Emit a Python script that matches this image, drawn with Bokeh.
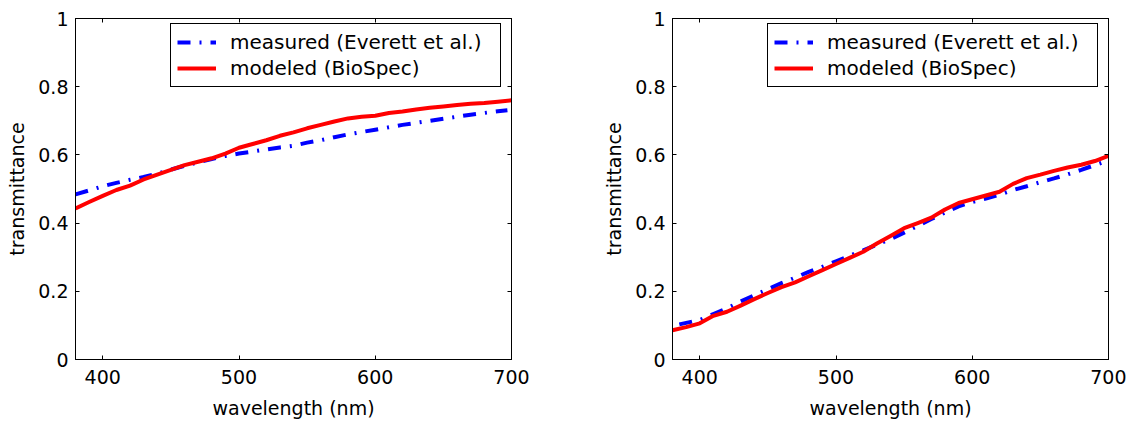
from bokeh.plotting import figure
from bokeh.models import Range1d, FixedTicker, LinearAxis, Legend, LegendItem
from bokeh.layouts import row
from bokeh.embed import file_html
from bokeh.resources import INLINE

# ---- data ----
x_ticks = [400, 500, 600, 700]
y_ticks = [0, 0.2, 0.4, 0.6, 0.8, 1]
y_tick_labels = ["0", "0.2", "0.4", "0.6", "0.8", "1"]

legend_labels = ["measured (Everett et al.)", "modeled (BioSpec)"]

# left panel
left_meas_wl = [380, 390, 400, 410, 420, 430, 440, 450, 460, 470, 480, 490, 500,
                510, 520, 530, 540, 550, 560, 570, 580, 590, 600, 610, 620, 630,
                640, 650, 660, 670, 680, 690, 697]
left_meas_t = [0.484, 0.496, 0.508, 0.518, 0.527, 0.535, 0.545, 0.557, 0.568, 0.578,
               0.588, 0.597, 0.604, 0.610, 0.616, 0.622, 0.627, 0.636, 0.643, 0.652,
               0.660, 0.667, 0.674, 0.681, 0.688, 0.694, 0.700, 0.706, 0.712, 0.718,
               0.723, 0.728, 0.731]
left_mod_wl = [380, 390, 400, 410, 420, 430, 440, 450, 460, 470, 480, 490, 500,
               510, 520, 530, 540, 550, 560, 570, 580, 590, 600, 610, 620, 630,
               640, 650, 660, 670, 680, 690, 700]
left_mod_t = [0.443, 0.462, 0.480, 0.497, 0.510, 0.528, 0.542, 0.556, 0.570, 0.580,
              0.590, 0.604, 0.621, 0.632, 0.643, 0.656, 0.666, 0.678, 0.688, 0.698,
              0.707, 0.712, 0.715, 0.723, 0.727, 0.733, 0.738, 0.742, 0.746, 0.750,
              0.752, 0.756, 0.760]

# right panel
right_meas_wl = [385, 400, 410, 420, 430, 440, 450, 460, 470, 480, 490, 500, 510,
                 520, 530, 540, 550, 560, 570, 580, 590, 600, 610, 620, 630, 640,
                 650, 660, 670, 680, 690, 697]
right_meas_t = [0.103, 0.116, 0.133, 0.150, 0.170, 0.188, 0.206, 0.224, 0.240, 0.257,
                0.272, 0.288, 0.304, 0.320, 0.337, 0.353, 0.372, 0.392, 0.412, 0.431,
                0.449, 0.462, 0.472, 0.483, 0.497, 0.508, 0.520, 0.531, 0.543, 0.556,
                0.570, 0.580]
right_mod_wl = [380, 390, 400, 410, 420, 430, 440, 450, 460, 470, 480, 490, 500,
                510, 520, 530, 540, 550, 560, 570, 580, 590, 600, 610, 620, 630,
                640, 650, 660, 670, 680, 690, 700]
right_mod_t = [0.086, 0.095, 0.106, 0.128, 0.140, 0.158, 0.177, 0.195, 0.212, 0.226,
               0.244, 0.262, 0.280, 0.298, 0.316, 0.340, 0.362, 0.385, 0.400, 0.416,
               0.440, 0.459, 0.470, 0.481, 0.492, 0.515, 0.532, 0.542, 0.553, 0.563,
               0.571, 0.582, 0.597]

FONT = "DejaVu Sans"
FS = "19px"


def style_axis(ax, ticks, show_labels=True, overrides=None):
    ax.ticker = FixedTicker(ticks=ticks)
    ax.major_tick_in = 4
    ax.major_tick_out = 0
    ax.minor_tick_line_color = None
    ax.axis_line_color = "black"
    ax.major_tick_line_color = "black"
    ax.major_label_text_color = "black"
    ax.major_label_text_font = FONT
    ax.major_label_text_font_size = FS
    if not show_labels:
        ax.major_label_overrides = {t: "" for t in ticks}
        ax.major_label_standoff = 0
    elif overrides:
        ax.major_label_overrides = overrides
    ax.axis_label_text_font = FONT
    ax.axis_label_text_font_size = FS
    ax.axis_label_text_font_style = "normal"
    ax.axis_label_text_color = "black"


def make_panel(meas_wl, meas_t, mod_wl, mod_t, border_left, border_right):
    p = figure(frame_width=436, frame_height=341,
               x_range=Range1d(380, 700), y_range=Range1d(0, 1),
               output_backend="svg", toolbar_location=None,
               min_border_left=border_left, min_border_right=border_right,
               min_border_top=18, min_border_bottom=62,
               background_fill_color="white", border_fill_color="white",
               outline_line_color="black", outline_line_width=1)
    p.xgrid.visible = False
    p.ygrid.visible = False

    r_meas = p.line(meas_wl, meas_t, line_color="#0000ff", line_width=4,
                    line_dash="13 9 2 9")
    r_mod = p.line(mod_wl, mod_t, line_color="#ff0000", line_width=4,
                   line_join="round")

    yover = {t: l for t, l in zip(y_ticks, y_tick_labels)}
    style_axis(p.xaxis[0], x_ticks)
    p.xaxis[0].axis_label = "wavelength (nm)"
    p.xaxis[0].major_label_standoff = 10
    p.xaxis[0].axis_label_standoff = 10
    style_axis(p.yaxis[0], y_ticks, overrides=yover)
    p.yaxis[0].axis_label = "transmittance"
    p.yaxis[0].major_label_standoff = 7
    p.yaxis[0].axis_label_standoff = 7

    top = LinearAxis()
    style_axis(top, x_ticks, show_labels=False)
    p.add_layout(top, "above")
    right = LinearAxis()
    style_axis(right, y_ticks, show_labels=False)
    p.add_layout(right, "right")

    legend = Legend(items=[LegendItem(label=legend_labels[0], renderers=[r_meas]),
                           LegendItem(label=legend_labels[1], renderers=[r_mod])],
                    location=(95, 272))
    legend.label_text_font = FONT
    legend.label_text_font_size = "20px"
    legend.label_text_color = "black"
    legend.border_line_color = "black"
    legend.border_line_width = 1
    legend.border_line_alpha = 1
    legend.background_fill_color = "white"
    legend.background_fill_alpha = 1
    legend.padding = 6
    legend.spacing = 2
    legend.margin = 0
    legend.glyph_width = 39
    legend.label_standoff = 14
    legend.label_width = 264
    p.add_layout(legend)
    return p


p1 = make_panel(left_meas_wl, left_meas_t, left_mod_wl, left_mod_t, 75, 56)
p2 = make_panel(right_meas_wl, right_meas_t, right_mod_wl, right_mod_t, 105, 18)

layout = row(p1, p2)
open("out.html", "w").write(file_html(layout, INLINE))
